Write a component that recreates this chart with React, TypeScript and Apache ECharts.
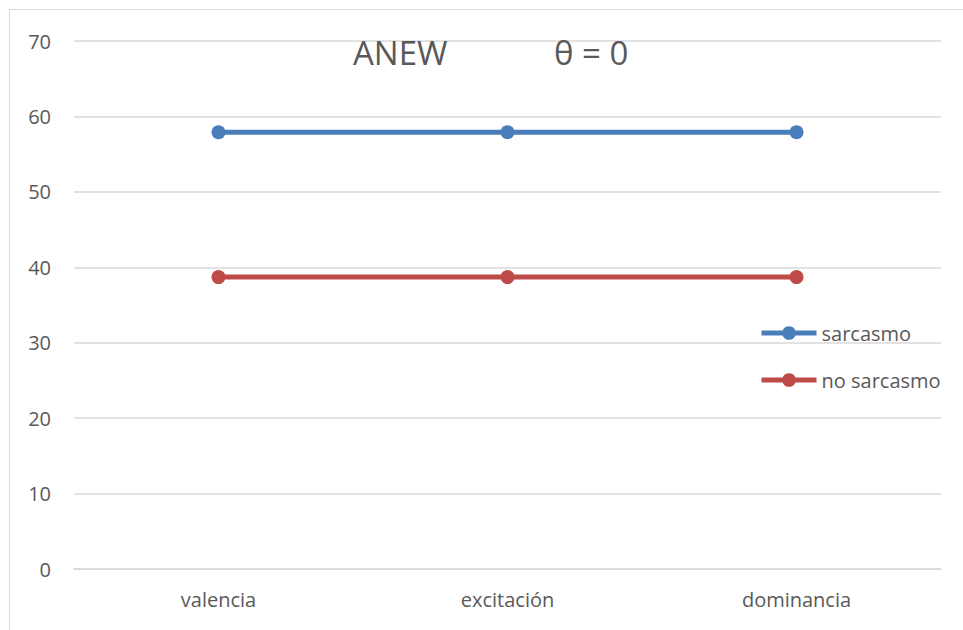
import React, { useEffect, useRef } from "react";
import * as echarts from "echarts";

const categories = ["valencia", "excitación", "dominancia"];
const sarcasmo = [57.9, 57.9, 57.9];
const noSarcasmo = [38.7, 38.7, 38.7];
const yTicks = { min: 0, max: 70, interval: 10 };

const FONT = "'Open Sans', 'Noto Sans', sans-serif";
const TXT = "#595959";

export default function App() {
  const ref = useRef<HTMLDivElement>(null);
  useEffect(() => {
    if (!ref.current) return;
    const chart = echarts.init(ref.current, undefined, { renderer: "svg" });
    chart.setOption({
      animation: false,
      backgroundColor: "#ffffff",
      title: [
        { text: "ANEW", left: 348, top: 31, textStyle: { fontFamily: FONT, fontSize: 33, fontWeight: "normal", color: TXT } },
        { text: "θ = 0", left: 549, top: 31, textStyle: { fontFamily: FONT, fontSize: 33, fontWeight: "normal", color: TXT } },
      ],
      graphic: [
        { type: "rect", shape: { x: 9.5, y: 9.5, width: 1200, height: 1200 }, style: { fill: "none", stroke: "#d9d9d9", lineWidth: 1 }, silent: true },
      ],
      legend: {
        orient: "vertical",
        left: 754,
        top: 318,
        itemWidth: 55,
        itemHeight: 17,
        itemGap: 27,
        lineStyle: { width: 5 },
        textStyle: { fontFamily: FONT, fontSize: 20, color: TXT },
        data: ["sarcasmo", "no sarcasmo"],
      },
      grid: { left: 74, right: 22, top: 41, bottom: 61, containLabel: false },
      xAxis: {
        type: "category",
        data: categories,
        boundaryGap: true,
        axisLine: { lineStyle: { color: "#d9d9d9", width: 1.5 } },
        axisTick: { show: false },
        axisLabel: { margin: 20, fontFamily: FONT, fontSize: 20, color: TXT },
      },
      yAxis: {
        type: "value",
        min: yTicks.min,
        max: yTicks.max,
        interval: yTicks.interval,
        axisLine: { show: false },
        axisTick: { show: false },
        axisLabel: { margin: 23, fontFamily: FONT, fontSize: 20, color: TXT },
        splitLine: { lineStyle: { color: "#d9d9d9", width: 1.5 } },
      },
      series: [
        {
          name: "sarcasmo",
          type: "line",
          data: sarcasmo,
          symbol: "circle",
          symbolSize: 14,
          itemStyle: { color: "#4A7EBB" },
          lineStyle: { color: "#4A7EBB", width: 5 },
        },
        {
          name: "no sarcasmo",
          type: "line",
          data: noSarcasmo,
          symbol: "circle",
          symbolSize: 14,
          itemStyle: { color: "#BE4B48" },
          lineStyle: { color: "#BE4B48", width: 5 },
        },
      ],
    });
    return () => chart.dispose();
  }, []);
  return <div ref={ref} style={{ width: 963, height: 630, position: "absolute", left: 0, top: 0 }} />;
}
